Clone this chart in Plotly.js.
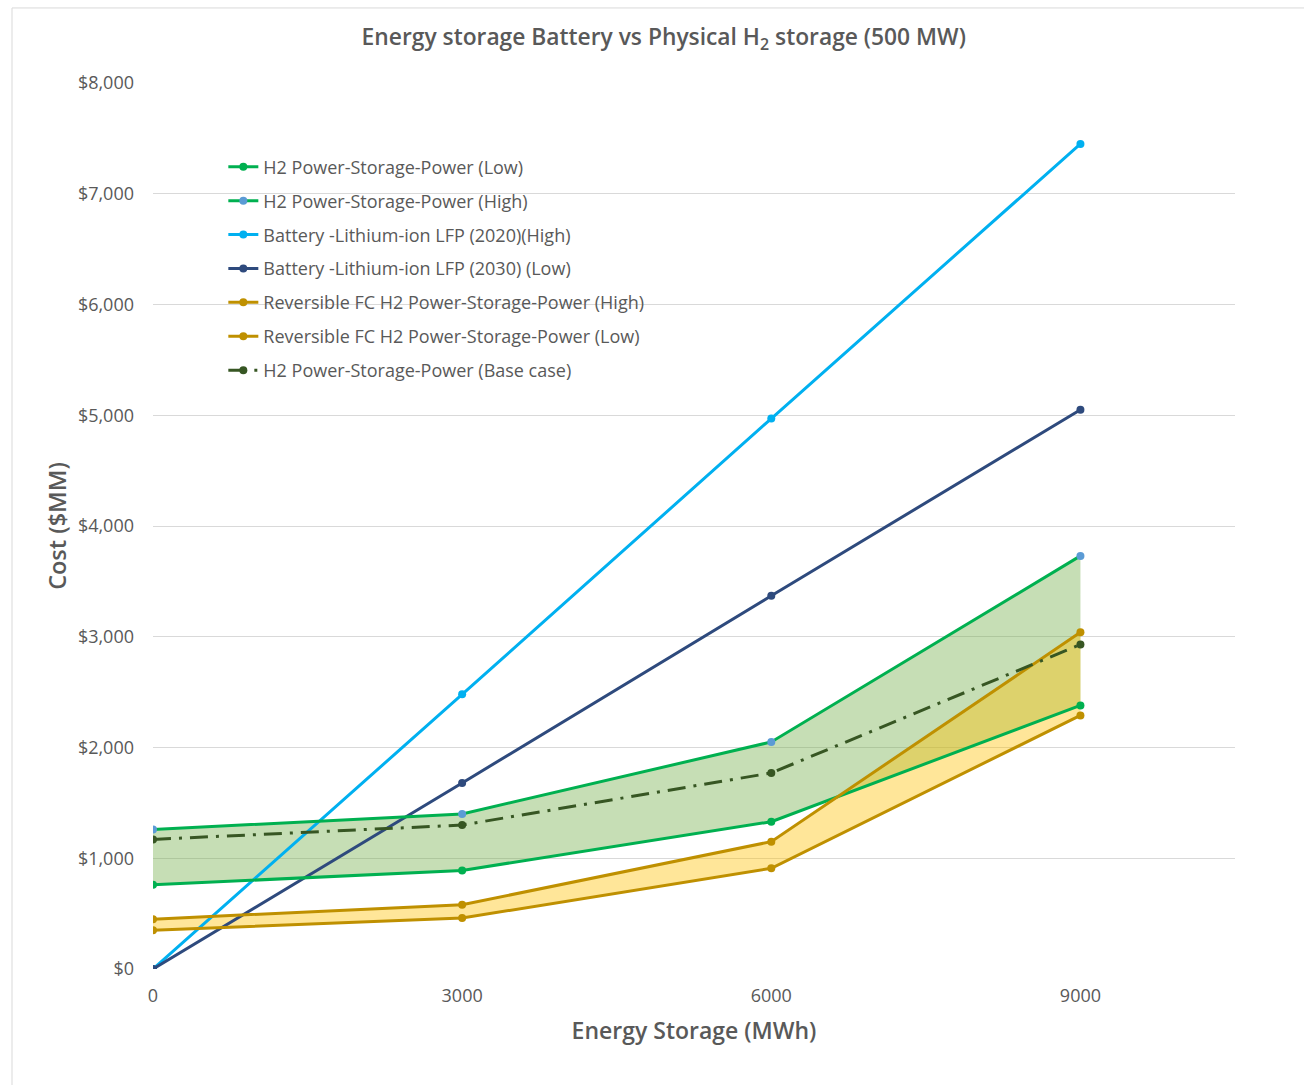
<!DOCTYPE html>
<html>
<head>
<meta charset="utf-8">
<script src="https://cdn.plot.ly/plotly-3.0.1.min.js"></script>
<style>
  html, body { margin: 0; padding: 0; background: #ffffff; }
  #chart { width: 1304px; height: 1085px; }
</style>
</head>
<body>
<div id="chart"></div>
<script>
// Energy storage size (MWh)
const storageMWh = [0, 3000, 6000, 9000];

// Cost ($MM) for each technology
const h2Low = [760, 890, 1330, 2380];
const h2High = [1260, 1400, 2050, 3730];
const battery2020High = [0, 2480, 4970, 7450];
const battery2030Low = [0, 1680, 3370, 5050];
const rfcHigh = [450, 580, 1150, 3040];
const rfcLow = [350, 460, 910, 2290];
const h2Base = [1170, 1300, 1770, 2930];

const xTicks = [0, 3000, 6000, 9000];
const yTicks = [0, 1000, 2000, 3000, 4000, 5000, 6000, 7000, 8000];

const GREEN = '#00b050';
const LIGHT_BLUE = '#5b9bd5';
const CYAN = '#00b0f0';
const NAVY = '#2e4a7d';
const GOLD = '#bf9000';
const DARK_GREEN = '#375623';

function band(lower, upper, color) {
  // Shaded range between the low and high cost curves
  return [
    { x: storageMWh, y: lower, mode: 'lines', line: { width: 0 }, showlegend: false, hoverinfo: 'skip' },
    { x: storageMWh, y: upper, mode: 'lines', line: { width: 0 }, fill: 'tonexty', fillcolor: color, showlegend: false, hoverinfo: 'skip' }
  ];
}

function series(name, y, lineColor, markerColor, group, dash) {
  return {
    x: storageMWh, y: y, name: name, mode: 'lines+markers',
    legendgroup: group,
    legendrank: parseInt(group.slice(1), 10),
    line: { color: lineColor, width: 3, dash: dash || 'solid' },
    marker: { color: markerColor, size: 8 }
  };
}

const traces = [
  ...band(h2Low, h2High, 'rgba(112,173,71,0.4)'),
  ...band(rfcLow, rfcHigh, 'rgba(255,192,0,0.4)'),
  series('Battery -Lithium-ion LFP (2020)(High)', battery2020High, CYAN, CYAN, 'g3'),
  series('Battery -Lithium-ion LFP (2030) (Low)', battery2030Low, NAVY, NAVY, 'g4'),
  series('H2 Power-Storage-Power (Low)', h2Low, GREEN, GREEN, 'g1'),
  series('H2 Power-Storage-Power (High)', h2High, GREEN, LIGHT_BLUE, 'g2'),
  series('Reversible FC H2 Power-Storage-Power (High)', rfcHigh, GOLD, GOLD, 'g5'),
  series('Reversible FC H2 Power-Storage-Power (Low)', rfcLow, GOLD, GOLD, 'g6'),
  series('H2 Power-Storage-Power (Base case)', h2Base, DARK_GREEN, DARK_GREEN, 'g7', '18px,8px,3px,8px')
];

const layout = {
  width: 1304,
  height: 1085,
  paper_bgcolor: '#ffffff',
  plot_bgcolor: '#ffffff',
  margin: { l: 153, r: 69, t: 83, b: 116 },
  font: { family: '"Open Sans", sans-serif', color: '#595959', size: 18 },
  title: {
    text: 'Energy storage Battery vs Physical H<sub>2</sub> storage (500 MW)',
    font: { family: '"Open Sans", sans-serif', size: 22.8, color: '#595959', weight: 600 },
    x: 0.509, xanchor: 'center', y: 0.966, yanchor: 'middle'
  },
  xaxis: {
    range: [0, 10500],
    tickvals: xTicks,
    ticktext: xTicks.map(String),
    showgrid: false,
    zeroline: false,
    showline: false,
    ticks: '',
    ticklabelstandoff: 14,
    tickfont: { size: 18, color: '#595959' },
    title: { text: 'Energy Storage (MWh)', font: { size: 23, color: '#595959', weight: 600 }, standoff: 16 }
  },
  yaxis: {
    range: [0, 8000],
    tickvals: yTicks,
    tickformat: '$,.0f',
    showgrid: true,
    gridcolor: '#d9d9d9',
    gridwidth: 1,
    zeroline: false,
    showline: false,
    ticks: '',
    ticklabelstandoff: 18,
    tickfont: { size: 18, color: '#595959' },
    title: { text: 'Cost ($MM)', font: { size: 23.5, color: '#595959', weight: 600 }, standoff: 4 }
  },
  legend: {
    x: 0.065, y: 0.926, xanchor: 'left', yanchor: 'top',
    bgcolor: 'rgba(255,255,255,0)',
    traceorder: 'grouped',
    tracegroupgap: 7.5,
    font: { size: 18, color: '#595959' },
    itemwidth: 30
  },
  shapes: [
    { type: 'rect', xref: 'paper', yref: 'paper', x0: -0.1303, x1: 1.3, y0: -0.4, y1: 1.0847,
      line: { color: '#d9d9d9', width: 1 }, fillcolor: 'rgba(0,0,0,0)', layer: 'below' }
  ]
};

Plotly.newPlot('chart', traces, layout, { displayModeBar: false, staticPlot: true });
</script>
</body>
</html>
